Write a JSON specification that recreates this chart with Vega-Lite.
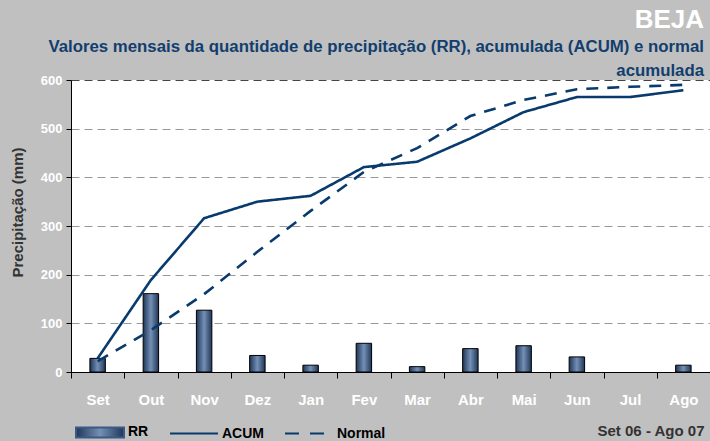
{
  "$schema": "https://vega.github.io/schema/vega-lite/v6.json",
  "width": 639,
  "height": 292,
  "autosize": {"type": "none"},
  "padding": {"left": 71, "top": 80, "right": 0, "bottom": 69},
  "background": "#C0C0C0",
  "title": {
    "text": "BEJA",
    "subtitle": ["Valores mensais da quantidade de precipitação (RR), acumulada (ACUM) e normal", "acumulada"],
    "anchor": "end",
    "align": "right",
    "frame": "group",
    "font": "Liberation Sans",
    "fontSize": 26,
    "fontWeight": "bold",
    "color": "#FFFFFF",
    "subtitleFont": "Liberation Sans",
    "subtitleFontSize": 16.8,
    "subtitleFontWeight": "bold",
    "subtitleColor": "#123E6E",
    "subtitleLineHeight": 24,
    "subtitlePadding": 6,
    "offset": -6,
    "dx": -6
  },
  "config": {
    "view": {"fill": "#FFFFFF", "stroke": null},
    "font": "Liberation Sans"
  },
  "data": {
    "values": [
      {"mes": "Set", "RR": 28, "ACUM": 28, "Normal": 22},
      {"mes": "Out", "RR": 161, "ACUM": 189, "Normal": 86},
      {"mes": "Nov", "RR": 127, "ACUM": 316, "Normal": 160},
      {"mes": "Dez", "RR": 34, "ACUM": 350, "Normal": 247},
      {"mes": "Jan", "RR": 14, "ACUM": 362, "Normal": 331},
      {"mes": "Fev", "RR": 59, "ACUM": 421, "Normal": 411},
      {"mes": "Mar", "RR": 11, "ACUM": 432, "Normal": 460},
      {"mes": "Abr", "RR": 48, "ACUM": 480, "Normal": 526},
      {"mes": "Mai", "RR": 54, "ACUM": 534, "Normal": 559},
      {"mes": "Jun", "RR": 31, "ACUM": 565, "Normal": 581},
      {"mes": "Jul", "RR": null, "ACUM": 565, "Normal": 586},
      {"mes": "Ago", "RR": 14, "ACUM": 579, "Normal": 590}
    ]
  },
  "encoding": {
    "x": {
      "field": "mes",
      "type": "nominal",
      "sort": null,
      "scale": {"domain": ["Set", "Out", "Nov", "Dez", "Jan", "Fev", "Mar", "Abr", "Mai", "Jun", "Jul", "Ago"], "paddingInner": 0, "paddingOuter": 0},
      "axis": {
        "title": "Set 06 -  Ago 07",
        "titleAnchor": "end",
        "titleAlign": "right",
        "titleX": 633,
        "titleY": 58,
        "titleBaseline": "middle",
        "titleColor": "#333333",
        "titleFontSize": 15,
        "titleFontWeight": "bold",
        "labelAngle": 0,
        "labelColor": "#FFFFFF",
        "labelFontSize": 15,
        "labelFontWeight": "bold",
        "labelPadding": 14,
        "domainColor": "#000000",
        "domainWidth": 1,
        "tickColor": "#000000",
        "tickSize": 6,
        "tickBand": "extent",
        "grid": false
      }
    }
  },
  "layer": [
    {
      "mark": {
        "type": "bar",
        "width": {"band": 0.29},
        "stroke": "#000000",
        "strokeWidth": 1,
        "fill": {
          "gradient": "linear",
          "x1": 0, "y1": 0, "x2": 1, "y2": 0,
          "stops": [
            {"offset": 0, "color": "#1E3658"},
            {"offset": 0.5, "color": "#7590B5"},
            {"offset": 1, "color": "#1E3658"}
          ]
        }
      },
      "encoding": {
        "y": {
          "field": "RR",
          "type": "quantitative",
          "scale": {"domain": [0, 600], "nice": false},
          "axis": {
            "values": [0, 100, 200, 300, 400, 500, 600],
            "title": "Precipitação  (mm)",
            "titleColor": "#333333",
            "titleFontSize": 15,
            "titleFontWeight": "bold",
            "titleX": -54,
            "titleY": 132,
            "titleBaseline": "middle",
            "labelColor": "#FFFFFF",
            "labelFontSize": 13,
            "labelFontWeight": "bold",
            "labelPadding": 4,
            "domainColor": "#000000",
            "tickColor": "#000000",
            "tickSize": 5,
            "grid": true,
            "gridColor": {"condition": {"test": "datum.value === 600", "value": "#444444"}, "value": "#999999"},
            "gridDash": [8, 5],
            "gridWidth": 1
          }
        }
      }
    },
    {
      "transform": [{"fold": ["ACUM", "Normal"], "as": ["serie", "valor"]}],
      "mark": {"type": "line", "strokeWidth": 2.6},
      "encoding": {
        "y": {"field": "valor", "type": "quantitative"},
        "color": {
          "field": "serie",
          "type": "nominal",
          "scale": {"domain": ["RR", "ACUM", "Normal"], "range": ["#3A5A85", "#083A6E", "#083A6E"]},
          "legend": {
            "orient": "none",
            "legendX": 4,
            "legendY": 327,
            "direction": "horizontal",
            "title": null,
            "symbolSize": 2304,
            "symbolStrokeWidth": 2,
            "labelFontSize": 14,
            "labelFontWeight": "bold",
            "labelColor": "#000000",
            "labelOffset": 3,
            "columnPadding": 17,
            "encode": {
              "symbols": {
                "update": {
                  "size": {"value": 2304},
                  "strokeWidth": {"value": 2},
                  "shape": {"signal": "datum.value === 'RR' ? 'M-1,-0.21H1V0.21H-1Z' : 'M-1,0H1'"},
                  "fill": {"signal": "datum.value === 'RR' ? {gradient: 'linear', x1: 0, y1: 0, x2: 1, y2: 0, stops: [{offset: 0, color: '#1E3658'}, {offset: 0.5, color: '#7590B5'}, {offset: 1, color: '#1E3658'}]} : 'transparent'"},
                  "stroke": {"signal": "datum.value === 'RR' ? '#1A2A40' : '#083A6E'"},
                  "strokeDash": {"signal": "datum.value === 'Normal' ? [14, 11] : []"}
                }
              }
            }
          }
        },
        "strokeDash": {
          "field": "serie",
          "type": "nominal",
          "scale": {"domain": ["ACUM", "Normal"], "range": [[1, 0], [12, 9]]},
          "legend": null
        }
      }
    }
  ]
}
